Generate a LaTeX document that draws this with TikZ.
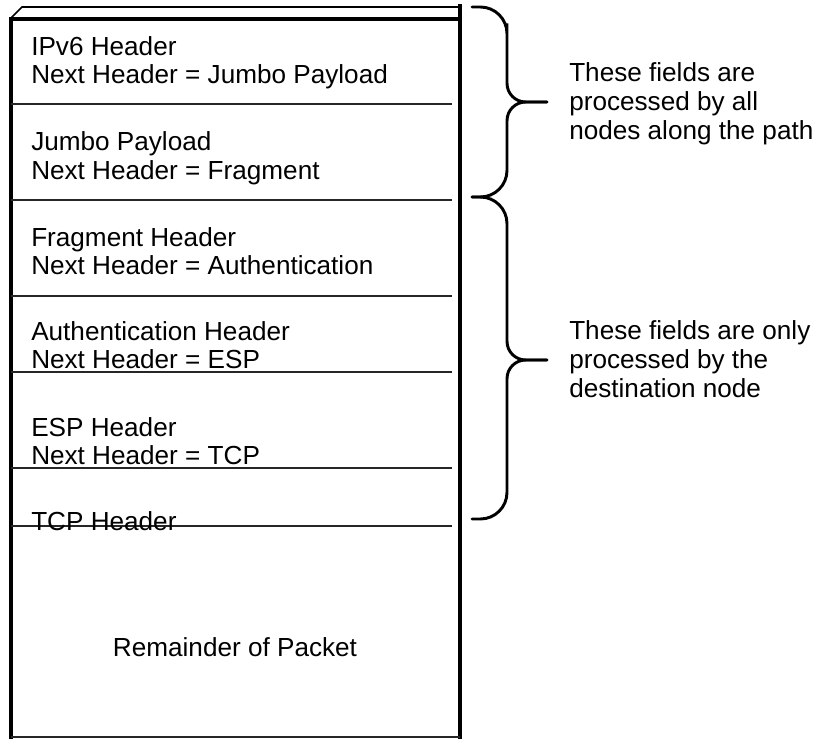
\documentclass[tikz,border=0pt]{standalone}
\usepackage{fontspec}
\setmainfont{Liberation Sans}
\usetikzlibrary{calc}
\tikzset{
  wall/.style={
    draw=black,
    line width=2.4pt,
    line cap=rect
  },
  rim/.style={
    draw=black,
    line width=1.2pt
  },
  divider/.style={
    draw=black!85,
    line width=0.8pt
  },
  field/.style={
    anchor=base west,
    align=left,
    inner sep=0pt,
    font=\fontsize{19.6}{21}\selectfont
  },
  remark/.style={
    anchor=base west,
    align=left,
    inner sep=0pt,
    font=\fontsize{19.6}{21.5}\selectfont
  },
  curly/.style={
    draw=black,
    line width=2.2pt,
    line cap=round
  }
}

\begin{document}
\begin{tikzpicture}[x=0.75pt,y=-0.75pt]
  \useasboundingbox (0,0) rectangle (816,738);

  % Packet outline with its slanted top edge.
  \draw[rim] (10,19) -- (22,7) -- (460,7);
  \draw[wall] (11,19) -- (460,19);
  \draw[wall] (11,19) -- (11,738);
  \draw[wall] (460,6) -- (460,738);
  \draw[divider] (11,737) -- (460,737);

  % Field separators stop short of the right wall.
  \foreach \y in {104,200,296,372,468,526}
    \draw[divider] (11,\y) -- (452,\y);

  % Header fields, one block each (placed by their last baseline).
  \node[field] (ipv6) at (31,84) {IPv6 Header\\Next Header = Jumbo Payload};
  \node[field] (jumbo) at (31,179) {Jumbo Payload\\Next Header = Fragment};
  \node[field] (frag) at (31,274) {Fragment Header\\Next Header = Authentication};
  \node[field] (auth) at (31,368) {Authentication Header\\Next Header = ESP};
  \node[field] (esp) at (31,464) {ESP Header\\Next Header = TCP};
  \node[field] (tcp) at (31,530) {TCP Header};
  \node[field,anchor=base] (rest) at (235,656) {Remainder of Packet};

  % Braces grouping the fields.
  \draw[curly] (472,7) [rounded corners=20pt] -- (507,7) -- (507,50)
    [rounded corners=14pt] -- (507,102) -- (547,102);
  \draw[curly] (547,102) [rounded corners=14pt] -- (507,102) -- (507,150)
    [rounded corners=20pt] -- (507,197) -- (472,197);
  \draw[curly] (472,197) [rounded corners=20pt] -- (507,197) -- (507,280)
    [rounded corners=14pt] -- (507,360) -- (547,360);
  \draw[curly] (547,360) [rounded corners=14pt] -- (507,360) -- (507,440)
    [rounded corners=20pt] -- (507,519) -- (472,519);

  \node[remark] (allnodes) at (569,139)
    {These fields are\\processed by all\\nodes along the path};
  \node[remark] (destonly) at (569,397)
    {These fields are only\\processed by the\\destination node};
\end{tikzpicture}
\end{document}
